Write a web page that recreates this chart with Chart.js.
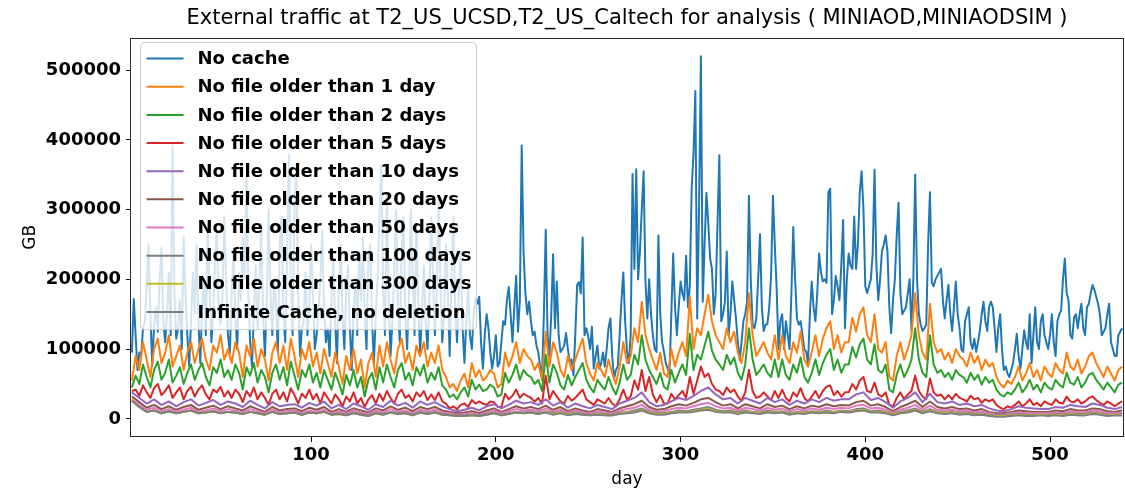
<!DOCTYPE html>
<html>
<head>
<meta charset="utf-8">
<title>External traffic</title>
<style>
  html, body { margin: 0; padding: 0; background: #ffffff; }
  canvas { display: block; }
</style>
<script src="https://cdn.jsdelivr.net/npm/chart.js@4.4.1/dist/chart.umd.min.js"></script>
</head>
<body>
<canvas id="traffic" width="1125" height="490"></canvas>
<script>
// Traffic values are in thousands of GB.
const KGB = 1000;

const seriesLabels = [
  'No cache',
  'No file older than 1 day',
  'No file older than 2 days',
  'No file older than 5 days',
  'No file older than 10 days',
  'No file older than 20 days',
  'No file older than 50 days',
  'No file older than 100 days',
  'No file older than 300 days',
  'Infinite Cache, no deletion'
];

// No cache: one value per day, days 3 .. 539
const noCache = [
  95,172,120,70,95,90,130,140,190,250,150,75,135,160,125,200,245,140,110,150,210,120,392,180,115,130,170,100,260,180,120,75,140,210,150,250,140,80,160,200,120,280,190,110,150,230,270,150,135,170,290,200,120,
  95,180,240,150,100,210,170,260,200,350,180,110,75,150,220,130,190,280,150,90,170,300,180,120,200,160,95,250,290,150,110,230,380,200,120,300,360,180,90,130,140,210,120,160,250,180,100,120,150,200,270,160,110,130,
  90,170,230,140,80,190,250,150,100,180,220,130,70,160,200,120,240,170,260,150,100,230,250,140,80,150,200,290,364,180,120,320,170,90,140,210,300,160,110,240,290,150,100,180,300,200,120,280,170,95,150,220,140,100,
  170,290,200,120,180,320,190,110,150,250,180,90,200,290,160,110,180,240,130,80,140,190,120,100,150,173,165,175,110,72,120,150,130,95,72,90,120,75,80,110,140,135,170,189,150,110,160,205,125,170,392,240,180,150,168,
  140,120,125,105,95,75,60,150,271,120,90,150,236,130,197,120,96,100,105,123,100,82,85,62,120,192,196,180,260,120,130,118,100,132,72,90,105,72,80,95,75,100,130,144,90,57,70,75,120,170,210,140,96,80,
  120,351,215,358,200,240,300,355,197,144,200,150,120,100,96,263,150,110,96,80,72,65,150,237,160,120,160,197,180,170,234,160,190,330,380,470,144,300,520,168,250,324,280,230,215,150,180,280,378,140,150,168,240,120,
  150,197,170,144,110,84,110,140,150,168,320,200,135,130,144,200,265,160,126,135,136,160,205,320,250,188,100,140,150,100,140,120,100,180,275,200,144,135,140,120,100,96,80,150,197,160,140,180,237,210,197,200,195,325,
  330,150,170,205,190,170,220,285,130,200,237,220,215,290,215,250,325,355,300,190,180,190,200,237,357,220,170,200,240,250,263,240,160,123,170,200,263,310,180,150,155,160,180,200,126,200,350,200,150,135,126,130,135,250,
  325,195,190,200,205,210,215,170,144,170,192,150,126,160,197,150,130,100,96,140,150,160,110,100,115,96,110,126,150,168,140,126,160,168,160,130,96,130,150,100,70,75,65,60,70,80,100,122,90,72,100,127,110,100,150,
  80,120,160,110,100,140,150,120,110,100,120,150,110,90,140,150,155,200,230,180,170,120,115,145,150,130,150,165,130,120,160,165,180,192,185,175,165,150,120,125,130,150,165,110,100,90,90,120,125,130
];

// 1, 2 and 5 day caches: every second day, days 3 .. 539
const older1Day = [
  55,90,70,110,85,60,100,115,80,95,120,75,90,105,70,95,110,80,100,115,85,70,105,95,120,85,100,
  80,110,95,60,105,90,115,75,100,85,55,95,110,80,105,70,115,90,60,100,85,110,75,95,65,100,80,
  60,95,75,50,90,70,100,65,85,45,80,95,60,105,75,110,85,65,100,115,80,95,70,105,90,110,75,
  95,80,105,70,60,45,50,40,55,65,45,80,60,70,55,60,70,65,45,50,95,75,90,110,80,100,90,
  85,70,80,55,125,75,110,95,70,60,90,70,85,100,115,80,65,55,80,70,60,85,65,50,75,110,80,
  90,130,110,168,120,100,85,70,95,65,60,100,75,95,110,90,175,100,130,120,150,178,140,120,110,100,130,
  110,125,95,80,110,180,120,90,100,110,95,85,120,85,120,90,80,110,95,125,85,75,95,120,90,115,130,
  140,100,120,95,110,110,145,125,150,160,120,110,150,100,95,110,60,55,90,110,85,100,120,180,120,95,85,
  165,110,95,100,85,95,80,100,90,85,75,95,80,90,70,85,75,80,60,50,45,55,50,60,75,55,65,
  80,60,70,55,75,65,60,80,70,65,95,75,70,85,65,75,90,95,80,70,60,75,65,55,70,75
];

const older2Days = [
  45,62,50,78,60,45,70,82,56,66,85,52,62,74,50,66,78,56,70,80,60,48,74,66,85,60,70,
  56,78,66,42,74,62,80,52,70,60,38,66,78,56,74,48,82,62,42,70,60,78,52,66,45,70,56,
  42,66,52,35,63,48,70,45,60,32,56,66,42,74,52,78,60,45,70,80,56,66,48,74,62,78,52,
  66,56,74,48,42,31,35,28,38,45,32,56,42,49,40,42,49,45,32,35,66,52,63,78,56,70,63,
  60,50,56,40,92,52,78,66,48,42,63,48,60,70,80,56,45,38,56,48,42,60,45,35,52,78,56,
  63,92,78,120,85,70,60,50,66,46,42,70,52,66,78,63,122,70,92,85,105,125,98,85,78,70,92,
  78,88,66,56,78,130,85,63,70,78,66,60,85,60,85,63,56,78,66,88,60,52,66,85,63,80,92,
  100,70,85,66,78,78,103,88,107,115,85,78,107,70,66,78,42,38,63,78,60,70,85,130,85,66,60,
  120,78,66,70,60,66,56,70,63,60,52,66,56,63,49,60,52,56,42,35,32,38,35,42,52,38,45,
  56,42,49,38,52,45,42,56,49,45,66,52,49,60,45,52,63,66,56,49,42,52,45,38,49,52
];

const older5Days = [
  40,42,33,48,38,30,44,50,34,40,48,30,38,45,28,40,46,32,42,48,35,28,42,38,46,32,40,
  30,42,36,24,40,32,45,28,38,30,20,36,42,28,38,25,44,34,22,36,30,42,28,36,22,38,30,
  22,35,28,18,32,25,38,22,30,17,28,34,22,36,26,40,30,22,36,42,30,34,25,38,32,40,27,
  35,27,38,25,22,15,18,14,20,22,17,27,22,25,22,20,25,24,17,17,36,28,33,42,30,36,33,
  30,25,30,22,62,28,40,32,25,22,33,26,30,36,42,28,24,20,28,25,22,30,22,18,28,42,28,
  32,55,42,70,40,60,35,24,34,22,22,36,28,34,40,30,60,36,55,75,60,65,50,42,40,34,45,
  38,42,32,26,38,70,40,30,32,38,32,27,40,30,42,30,25,38,32,44,30,25,32,40,30,40,46,
  48,34,40,32,38,38,50,42,55,60,40,38,52,35,32,38,20,18,30,38,28,35,40,62,40,32,28,
  58,38,33,35,28,34,28,36,30,28,25,33,28,30,23,28,25,28,20,16,14,18,16,20,25,18,22,
  28,20,23,18,25,22,20,28,23,22,32,25,24,28,22,25,30,32,27,23,20,25,22,18,22,25
];

// Longer caches: every fourth day, days 3 .. 539
const older10Days = [
  38,30,22,28,20,25,18,24,28,19,23,27,20,25,
  22,17,26,20,15,24,18,20,21,16,23,19,25,15,
  20,14,22,18,13,21,17,26,19,23,16,25,20,
  24,18,14,11,13,16,12,18,21,15,20,26,22,24,
  20,28,19,24,16,22,18,15,20,17,14,22,26,
  30,38,24,18,20,25,30,27,33,40,45,35,28,30,
  22,30,26,22,30,24,28,20,26,22,28,24,30,
  26,28,28,35,38,27,30,24,16,25,30,38,24,36,
  24,22,25,20,22,18,20,15,12,11,14,18,16,
  15,14,14,17,16,20,18,17,22,20,16,14,17
];

const older20Days = [
  32,24,16,20,14,18,13,17,20,13,16,19,14,18,
  15,12,18,14,10,17,12,14,15,11,16,13,17,10,
  14,10,15,12,9,15,12,18,13,16,11,17,14,
  17,12,10,8,9,11,8,12,15,10,14,18,15,17,
  14,19,13,17,11,15,12,10,14,12,10,15,18,
  21,26,17,13,14,18,21,19,23,28,30,24,19,21,
  15,21,18,15,21,17,19,14,18,15,19,17,21,
  18,20,19,24,26,19,21,17,11,17,21,26,17,25,
  17,15,17,14,15,12,14,10,8,8,10,12,11,
  10,10,10,12,11,14,12,12,15,14,11,10,12
];

const older50Days = [
  28,20,13,16,11,14,10,13,16,10,12,15,11,14,
  12,9,14,11,8,13,9,11,12,8,12,10,13,8,
  11,8,12,9,7,12,9,14,10,12,8,13,11,
  13,9,8,6,7,8,6,9,12,8,11,14,12,13,
  11,15,10,13,9,12,9,8,11,9,8,12,14,
  16,20,13,10,11,14,16,15,18,21,23,18,15,16,
  12,16,14,12,16,13,15,11,14,12,15,13,16,
  14,16,15,19,20,15,16,13,9,13,16,20,13,19,
  13,12,13,11,12,9,11,8,6,6,8,9,8,
  8,8,8,9,8,11,9,9,12,11,8,8,9
];

const older100Days = [
  26,17,10,12,8,11,8,10,12,8,9,11,8,10,
  9,7,10,8,6,10,7,8,9,6,9,8,10,6,
  8,6,9,7,5,9,7,10,8,9,6,10,8,
  10,7,6,5,5,6,5,7,9,6,8,10,9,10,
  8,11,8,10,7,9,7,6,8,7,6,9,10,
  12,15,10,8,8,10,12,11,13,15,17,13,11,12,
  9,12,10,9,12,10,11,8,10,9,11,10,12,
  10,12,11,14,15,11,12,10,7,10,12,15,10,14,
  10,9,10,8,9,7,8,6,5,5,6,7,6,
  6,6,6,7,6,8,7,7,9,8,6,6,7
];

const older300Days = [
  26,17,10,12,8,11,8,10,12,8,9,11,8,10,
  9,7,10,8,6,10,7,8,9,6,9,8,10,6,
  7,5,8,6,4,8,6,9,7,8,5,9,7,
  9,6,5,4,4,5,4,6,8,5,7,9,8,9,
  7,10,7,9,6,8,6,5,7,6,5,8,9,
  10,13,9,7,7,9,10,10,11,13,15,11,10,10,
  8,10,9,8,10,9,10,7,9,8,10,9,10,
  9,11,10,12,13,10,10,9,6,9,10,13,9,12,
  9,8,9,7,8,6,7,5,4,4,5,6,5,
  5,6,5,6,5,7,6,6,8,7,5,6,6
];

const infiniteCache = [
  26,17,10,12,8,11,8,10,12,8,9,11,8,10,
  9,7,10,8,6,10,7,8,9,6,9,8,10,6,
  7,5,8,6,4,8,6,9,7,8,5,9,7,
  9,6,5,4,4,5,4,6,8,5,7,9,8,9,
  7,9,6,8,5,7,6,5,6,5,5,7,8,
  9,12,8,6,6,8,9,9,10,12,13,10,9,9,
  7,9,8,7,9,8,9,6,8,7,9,8,9,
  8,10,9,11,12,9,9,8,5,8,9,12,8,11,
  8,7,8,6,7,5,6,4,3,3,4,5,4,
  4,5,4,5,4,6,5,5,7,6,4,5,5
];

const xTicks = [100, 200, 300, 400, 500];
const yTicks = [0, 100000, 200000, 300000, 400000, 500000];

const seriesColors = [
  '#1f77b4', '#ff7f0e', '#2ca02c', '#d62728', '#9467bd',
  '#8c564b', '#e377c2', '#7f7f7f', '#bcbd22', '#7f7f7f'
];

// first sampled day and spacing (in days) of each series
const sampling = [
  [noCache, 3, 1], [older1Day, 3, 2], [older2Days, 3, 2], [older5Days, 3, 2],
  [older10Days, 3, 4], [older20Days, 3, 4], [older50Days, 3, 4],
  [older100Days, 3, 4], [older300Days, 3, 4], [infiniteCache, 3, 4]
];

const FONT = '"DejaVu Sans", "Liberation Sans", sans-serif';

const datasets = sampling.map(([values, first, step], i) => ({
  label: seriesLabels[i],
  data: values.map((v, k) => ({ x: first + k * step, y: v * KGB })),
  borderColor: seriesColors[i],
  backgroundColor: seriesColors[i],
  borderWidth: 2,
  borderJoinStyle: 'round',
  pointRadius: 0,
  tension: 0,
  fill: false,
  order: sampling.length - i   // later series are drawn on top
}));

// axes frame around the plotting area
const frame = {
  id: 'frame',
  afterDatasetsDraw(chart) {
    const { ctx, chartArea: a } = chart;
    ctx.save();
    ctx.strokeStyle = '#262626';
    ctx.lineWidth = 1;
    ctx.strokeRect(Math.round(a.left) - 0.5, Math.round(a.top) + 0.5,
                   Math.round(a.right - a.left) + 1, Math.round(a.bottom - a.top) - 1);
    ctx.restore();
  }
};

// legend drawn inside the plotting area, over the lines
const insideLegend = {
  id: 'insideLegend',
  afterDatasetsDraw(chart) {
    const { ctx, chartArea: a } = chart;
    const x = a.left + 9.5, y = a.top + 5, w = 336, h = 287, r = 4;
    ctx.save();
    ctx.beginPath();
    ctx.moveTo(x + r, y);
    ctx.lineTo(x + w - r, y);
    ctx.arcTo(x + w, y, x + w, y + r, r);
    ctx.lineTo(x + w, y + h - r);
    ctx.arcTo(x + w, y + h, x + w - r, y + h, r);
    ctx.lineTo(x + r, y + h);
    ctx.arcTo(x, y + h, x, y + h - r, r);
    ctx.lineTo(x, y + r);
    ctx.arcTo(x, y, x + r, y, r);
    ctx.closePath();
    ctx.fillStyle = 'rgba(255,255,255,0.8)';
    ctx.fill();
    ctx.strokeStyle = '#cccccc';
    ctx.lineWidth = 1;
    ctx.stroke();

    ctx.font = 'bold 18px ' + FONT;
    ctx.textBaseline = 'middle';
    ctx.textAlign = 'left';
    const rowH = 28.15;
    chart.data.datasets.forEach((ds, i) => {
      const cy = y + 16 + i * rowH;
      ctx.strokeStyle = ds.borderColor;
      ctx.lineWidth = 2;
      ctx.beginPath();
      ctx.moveTo(x + 6, cy);
      ctx.lineTo(x + 43, cy);
      ctx.stroke();
      ctx.fillStyle = '#000000';
      ctx.fillText(ds.label, x + 57, cy + 1);
    });
    ctx.restore();
  }
};

const tickFont = { family: FONT, size: 18, weight: 'bold' };
const labelFont = { family: FONT, size: 17, weight: 'normal' };

new Chart(document.getElementById('traffic'), {
  type: 'line',
  data: { datasets },
  options: {
    responsive: false,
    animation: false,
    devicePixelRatio: 1,
    normalized: true,
    layout: { padding: { left: 0, right: 2, top: 0, bottom: 0 } },
    plugins: {
      legend: { display: false },
      tooltip: { enabled: false },
      title: {
        display: true,
        fullSize: false,
        text: 'External traffic at T2_US_UCSD,T2_US_Caltech for analysis ( MINIAOD,MINIAODSIM )',
        color: '#000000',
        font: { family: FONT, size: 21, weight: 'normal' },
        padding: { top: 6, bottom: 6.4 }
      }
    },
    scales: {
      x: {
        type: 'linear',
        min: 2.5,
        max: 539.5,
        afterBuildTicks: s => { s.ticks = xTicks.map(v => ({ value: v })); },
        afterFit: s => { s.height = 53; },
        ticks: { font: tickFont, color: '#000000', padding: 3, maxRotation: 0, autoSkip: false,
                 callback: v => String(v) },
        grid: { drawOnChartArea: false, drawTicks: true, tickLength: 5, tickColor: '#000000', color: '#000000' },
        border: { display: false },
        title: { display: true, text: 'day', color: '#000000', font: labelFont, padding: { top: 0, bottom: 0 } }
      },
      y: {
        type: 'linear',
        min: -26000,
        max: 546600,
        afterBuildTicks: s => { s.ticks = yTicks.map(v => ({ value: v })); },
        afterFit: s => { s.width = 131; },
        ticks: { font: tickFont, color: '#000000', padding: 5, autoSkip: false,
                 callback: v => String(v) },
        grid: { drawOnChartArea: false, drawTicks: true, tickLength: 5, tickColor: '#000000', color: '#000000' },
        border: { display: false },
        title: { display: true, text: 'GB', color: '#000000', font: labelFont, padding: { top: 20, bottom: 0 } }
      }
    }
  },
  plugins: [frame, insideLegend]
});
</script>
</body>
</html>
